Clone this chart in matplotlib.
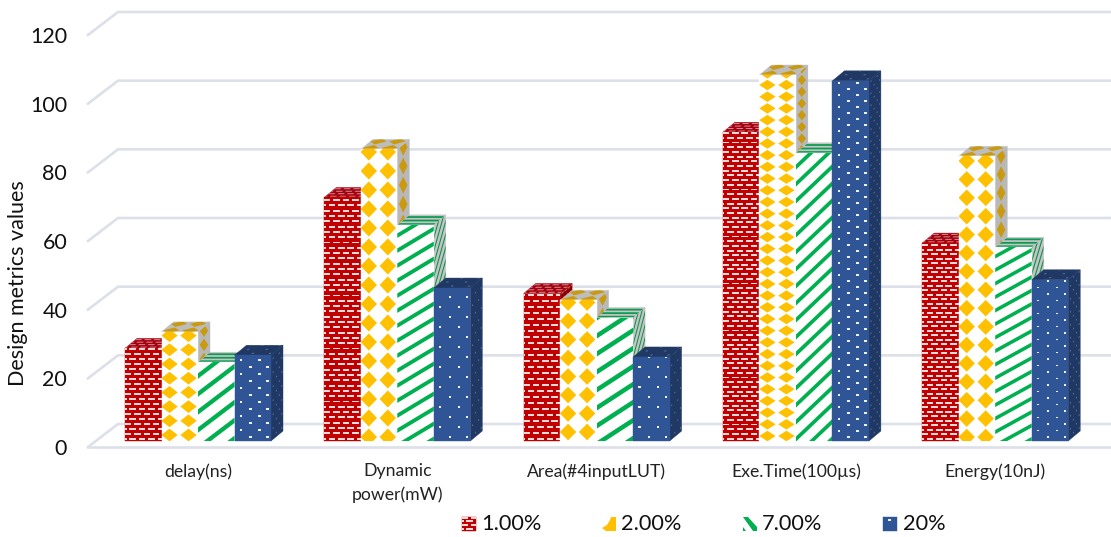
import matplotlib
matplotlib.use("Agg")
import matplotlib.pyplot as plt
import numpy as np
from matplotlib.collections import PolyCollection
from matplotlib.patches import Polygon
from matplotlib.transforms import IdentityTransform

plt.rcParams['font.family'] = ['Lato', 'DejaVu Sans']

categories = ["delay(ns)", "Dynamic\npower(mW)", "Area(#4inputLUT)", "Exe.Time(100µs)", "Energy(10nJ)"]
series_names = ["1.00%", "2.00%", "7.00%", "20%"]
v_1 = [27, 71, 43, 90, 57.7]
v_2 = [31.8, 85, 41, 106.7, 83]
v_7 = [23, 63, 36, 84, 56.5]
v_20 = [25, 44.6, 24.5, 105, 47]
yticks = [0, 20, 40, 60, 80, 100, 120]

W, H = 1111, 537
DEP_X, DEP_Y = 12, 10
BAR_W = 36.5
GROUP = 199.3
GRID = '#DDE0E9'

# the texture fills are stretched differently on each group in the original
red_step = [5, 5.3, 6, 4.7, 4.5]
dia_step = [14.2, 19, 18.5, 11.7, 18.4]
dia_off = [6, 4, 9, 5, 4]
str_slope = [0.76, 0.6, 0.65, 0.95, 0.55]
str_step = [18, 15, 18, 17, 13.5]
dot_step = [7, 10, 10, 6, 6.5]


def brick(step):
    def make(w, h):
        out = []
        for k, t in enumerate(np.arange(1.5, h + step, step)):
            for s in np.arange(-5 + 4.7 * (k % 2), w + 6, 9.4):
                out.append([(s, t), (s + 6.5, t), (s + 6.5, t + 1.9), (s, t + 1.9)])
        return out
    return make


def diamonds(step, off, cols=(8, 27), hw=8.2, skew=0.0):
    def make(w, h):
        out = []
        hh = 0.45 * step
        for t in np.arange(off, h + step, step):
            for s in cols:
                # skew keeps the diamonds upright on the slanted side face
                out.append([(s - hw, t + skew * hw), (s, t + hh), (s + hw, t - skew * hw), (s, t - hh)])
        return out
    return make


def stripes(slope, step):
    def make(w, h):
        out = []
        th = max(0.3 * step, 3.5)
        for c in np.arange(-slope * w - step, h + step, step):
            out.append([(0, c), (w, c + slope * w), (w, c + slope * w + th), (0, c + th)])
        return out
    return make


def dots(step, size=1.1):
    def make(w, h):
        out = []
        for k, t in enumerate(np.arange(4, h + step, step)):
            for s in ((6.5, 25) if k % 2 else (16, 33)):
                out.append([(s - size, t - 0.8), (s + size, t - 0.8), (s + size, t + 0.8), (s - size, t + 0.8)])
        return out
    return make


def face(ax, org, u, v, w, h, pattern, bg, mark):
    org, u, v = np.array(org), np.array(u), np.array(v)
    to_px = lambda p: org + p[0] * u + p[1] * v
    outline = [to_px(p) for p in [(0, 0), (w, 0), (w, h), (0, h)]]
    poly = Polygon(outline, closed=True, facecolor=bg, edgecolor=bg, linewidth=0.3,
                   transform=IdentityTransform(), clip_on=False)
    ax.add_patch(poly)
    marks = [[to_px(p) for p in m] for m in pattern(w, h)]
    pc = PolyCollection(marks, facecolors=mark, edgecolors='none', transform=IdentityTransform())
    pc.set_clip_path(poly)
    ax.add_collection(pc, autolim=False)


def bar3d(ax, x, value, front, side, top, cols):
    x0, y0 = ax.transData.transform((x - BAR_W / GROUP / 2, 0))
    x1, y1 = ax.transData.transform((x + BAR_W / GROUP / 2, value))
    w, h = x1 - x0, y1 - y0
    face(ax, (x1, y0), (DEP_X / w, DEP_Y / w), (0, 1), w, h, side, cols[2], cols[3])
    face(ax, (x0, y1), (1, 0), (DEP_X / 20, DEP_Y / 20), w, 20, top, cols[4], cols[5])
    face(ax, (x0, y0), (1, 0), (0, 1), w, h, front, cols[0], cols[1])


# front bg, front mark, side bg, side mark, top bg, top mark
red_cols = ('#C00000', '#F8D8D8', '#8E0000', '#C86060', '#A00010', '#E09090')
yel_cols = ('#FFFFFF', '#FFC000', '#B8B8B8', '#C99A10', '#BDBDBD', '#C99A10')
grn_cols = ('#FFFFFF', '#00B050', '#C4C4C4', '#0A8F4A', '#C4C4C4', '#0A9A50')
blu_cols = ('#2F5597', '#EEF2F8', '#203864', '#6F83AB', '#203864', '#6F83AB')

fig = plt.figure(figsize=(W / 100, H / 100), dpi=100)

# back wall and tick labels
ax0 = fig.add_axes([88 / W, (H - 447) / H, (1113 - 88) / W, 412 / H])
ax0.set_ylim(0, 120)
ax0.set_xlim(88, 1113)
for s in ax0.spines.values():
    s.set_visible(False)
ax0.set_xticks([])
ax0.set_yticks(yticks)
ax0.tick_params(axis='y', length=0, pad=15, labelsize=15.5, labelcolor='#111111')
back = 23 / (412 / 120)
for y in yticks:
    ax0.plot([88, 118, 1113], [y, y + back, y + back], color=GRID, lw=1.9, clip_on=False,
             solid_joinstyle='miter')
ax0.plot([88, 1113], [0, 0], color=GRID, lw=1.9, clip_on=False)
fig.text(18 / W, 1 - 283 / H, "Design metrics values", rotation=90, ha='center', va='center',
         fontsize=15.5, color='#111111')

# bars
ax = fig.add_axes([0, (H - 441) / H, 1, 441 / H])
ax.patch.set_alpha(0)
ax.set_xlim(-198 / GROUP, (W - 198) / GROUP)
ax.set_ylim(0, 441 / 3.43)
for s in ax.spines.values():
    s.set_visible(False)
ax.set_yticks([])
ax.set_xticks(range(len(categories)))
ax.set_xticklabels(categories, fontsize=12.7, color='#222222', linespacing=1.5, va='top')
ax.tick_params(axis='x', length=0, pad=16)

for i in range(len(categories)):
    d = BAR_W / GROUP
    bar3d(ax, i - 1.5 * d, v_1[i], brick(red_step[i]), brick(red_step[i]), brick(5), red_cols)
    dia = diamonds(dia_step[i], dia_off[i])
    dia_side = diamonds(dia_step[i], dia_off[i], cols=(18,), hw=13, skew=DEP_Y / BAR_W)
    dia_top = diamonds(13, 3)
    bar3d(ax, i - 0.5 * d, v_2[i], dia, dia_side, dia_top, yel_cols)
    bar3d(ax, i + 0.5 * d, v_7[i], stripes(str_slope[i], str_step[i]),
          stripes(str_slope[i] * 1.5, 13), stripes(0, 7), grn_cols)
    bar3d(ax, i + 1.5 * d, v_20[i], dots(dot_step[i]), dots(dot_step[i]), dots(8), blu_cols)


# legend swatches show only a corner of each texture
def leg_yellow(w, h):
    return [[(0, 3), (5, 6), (8, 11), (9, 14), (14, 14), (14, 0), (4, 0)]]


def leg_green(w, h):
    return [[(0, 14), (5, 14), (14, 4), (14, 0), (10, 0)], [(0, 0), (3, 0), (0, 4)]]


leg_x = [462, 602, 743, 883]
txt_x = [481, 621, 762, 903]
leg_fill = [(brick(3.6), '#C00000', '#F8D8D8'), (leg_yellow, '#FFFFFF', '#FFC000'),
            (leg_green, '#FFFFFF', '#00B050'), (dots(7, 1.2), '#2F5597', '#EEF2F8')]
for name, lx, tx, lf in zip(series_names, leg_x, txt_x, leg_fill):
    face(ax, (lx, H - 531), (1, 0), (0, 1), 14, 14, lf[0], lf[1], lf[2])
    fig.text(tx / W, 1 - 524 / H, name, ha='left', va='center', fontsize=15.7, color='#111111')

fig.savefig("out.png", dpi=100)
